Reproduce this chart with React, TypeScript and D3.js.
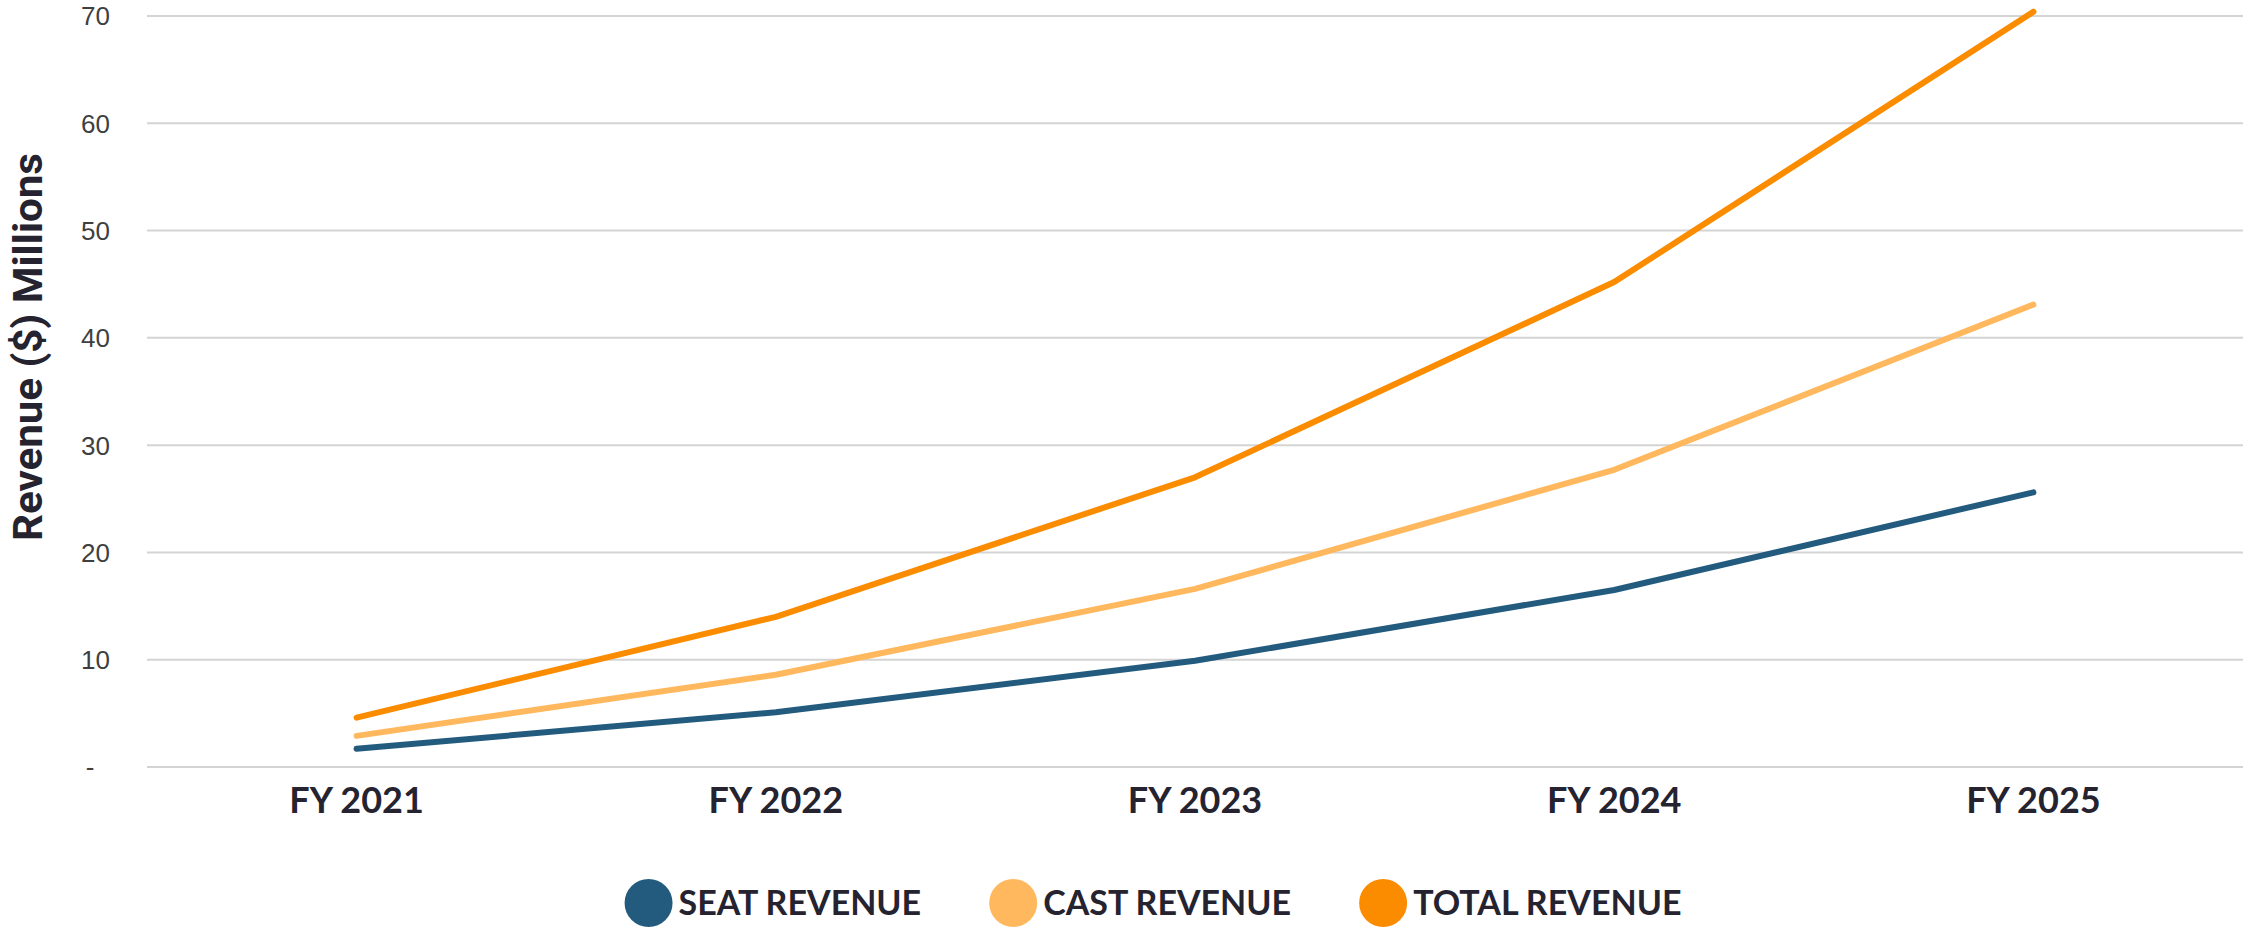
import { useEffect, useRef } from "react";
import * as d3 from "d3";

const years = ["FY 2021", "FY 2022", "FY 2023", "FY 2024", "FY 2025"];
const seatRevenue = [1.7, 5.1, 9.9, 16.5, 25.6];
const castRevenue = [2.9, 8.6, 16.6, 27.7, 43.1];
const totalRevenue = [4.6, 14.0, 27.0, 45.2, 70.4];
const yTicks = [0, 10, 20, 30, 40, 50, 60, 70];

const seriesNames = ["SEAT REVENUE", "CAST REVENUE", "TOTAL REVENUE"];
const seriesColors = ["#235b7e", "#ffb85e", "#fb8c00"];

const WIDTH = 2268;
const HEIGHT = 950;
const TEXT = "#25232f";

export default function App() {
  const svgRef = useRef<SVGSVGElement | null>(null);

  useEffect(() => {
    if (!svgRef.current) return;
    const svg = d3.select(svgRef.current);
    svg.selectAll("*").remove();

    const margin = { top: 16, right: 25, bottom: 183, left: 147 };
    const innerW = WIDTH - margin.left - margin.right;
    const innerH = HEIGHT - margin.top - margin.bottom;

    const x = d3.scalePoint().domain(years).range([0, innerW]).padding(0.5);
    const y = d3.scaleLinear().domain([0, 70]).range([innerH, 0]);

    const g = svg
      .append("g")
      .attr("transform", `translate(${margin.left},${margin.top})`);

    // gridlines
    g.selectAll(".grid")
      .data(yTicks)
      .enter()
      .append("line")
      .attr("x1", 0)
      .attr("x2", innerW)
      .attr("y1", (d) => y(d))
      .attr("y2", (d) => y(d))
      .attr("stroke", "#d4d4d4")
      .attr("stroke-width", 2);

    // y tick labels ("-" for zero, accounting style)
    g.selectAll(".ytick")
      .data(yTicks)
      .enter()
      .append("text")
      .attr("x", (d) => (d === 0 ? -57 : -37))
      .attr("y", (d) => y(d))
      .attr("dy", "0.36em")
      .attr("text-anchor", (d) => (d === 0 ? "middle" : "end"))
      .attr("font-family", "'Liberation Sans', Arial, sans-serif")
      .attr("font-size", 26)
      .attr("fill", "#3f3f3f")
      .text((d) => (d === 0 ? "-" : String(d)));

    // x labels
    g.selectAll(".xlabel")
      .data(years)
      .enter()
      .append("text")
      .attr("x", (d) => x(d)!)
      .attr("y", innerH + 46)
      .attr("text-anchor", "middle")
      .attr("font-family", "Lato, sans-serif")
      .attr("font-weight", 700)
      .attr("font-size", 36)
      .attr("fill", TEXT)
      .text((d) => d);

    // lines
    const allSeries = [seatRevenue, castRevenue, totalRevenue];
    const line = d3
      .line<number>()
      .x((_, i) => x(years[i])!)
      .y((d) => y(d));
    allSeries.forEach((vals, i) => {
      g.append("path")
        .datum(vals)
        .attr("d", line)
        .attr("fill", "none")
        .attr("stroke", seriesColors[i])
        .attr("stroke-width", 6)
        .attr("stroke-linejoin", "round")
        .attr("stroke-linecap", "round");
    });

    // y axis title
    svg
      .append("text")
      .attr("transform", `translate(42,347) rotate(-90)`)
      .attr("text-anchor", "middle")
      .attr("font-family", "'Liberation Sans Narrow', 'Roboto', sans-serif")
      .attr("font-weight", 700)
      .attr("font-size", 40)
      .attr("textLength", 388)
      .attr("lengthAdjust", "spacingAndGlyphs")
      .attr("fill", TEXT)
      .text("Revenue ($) Millions");

    // legend
    const legend = svg.append("g");
    const r = 24;
    let cursor = 0;
    seriesNames.forEach((name, i) => {
      const item = legend.append("g").attr("transform", `translate(${cursor},0)`);
      item
        .append("circle")
        .attr("cx", r)
        .attr("cy", 0)
        .attr("r", r)
        .attr("fill", seriesColors[i]);
      const t = item
        .append("text")
        .attr("x", 2 * r + 6)
        .attr("y", 12)
        .attr("font-family", "Lato, sans-serif")
        .attr("font-weight", 700)
        .attr("font-size", 34)
        .attr("fill", TEXT)
        .text(name);
      const w = (t.node() as SVGTextElement).getComputedTextLength();
      cursor += 2 * r + 6 + w + 68;
    });
    const total = cursor - 68;
    legend.attr("transform", `translate(${1153 - total / 2},903)`);
  }, []);

  return (
    <div style={{ position: "absolute", left: 0, top: 0 }}>
      <svg ref={svgRef} width={WIDTH} height={HEIGHT} style={{ display: "block", background: "#fff" }} />
    </div>
  );
}
